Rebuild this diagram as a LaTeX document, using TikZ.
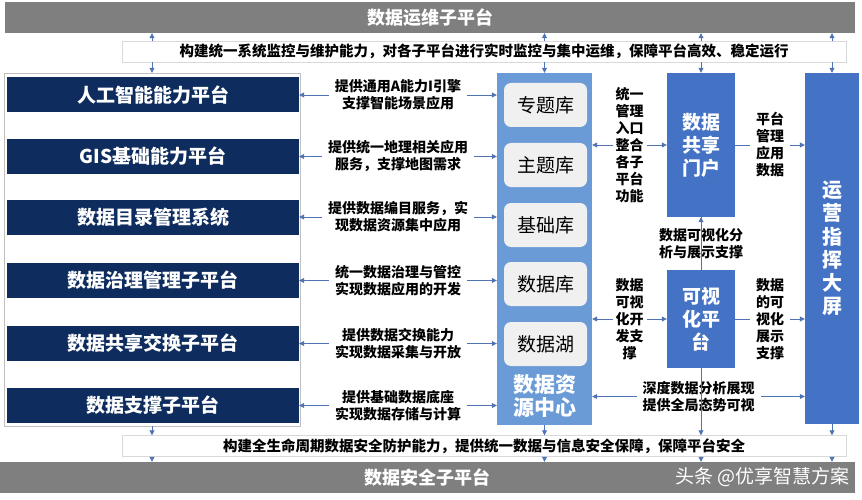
\documentclass[tikz,border=0pt]{standalone}
\usepackage{fontspec}
\setmainfont{Noto Sans CJK SC}
\usetikzlibrary{arrows.meta}
\definecolor{opsgray}{HTML}{7F7F7F}
\definecolor{navy}{HTML}{0E2D5E}
\definecolor{rcblue}{HTML}{6B9BD6}
\definecolor{deepblue}{HTML}{4472C4}
\definecolor{arrowblue}{HTML}{5073B3}

\begin{document}
\begin{tikzpicture}[x=1pt,y=-1pt,
	>={Triangle[width=5pt,length=5pt]},
	bar/.style={fill=opsgray,text=white,font=\fontsize{18}{20}\selectfont\bfseries,minimum width=850pt,minimum height=31pt,inner sep=0pt},
	band/.style={draw=black!15,fill=white,font=\fontsize{14.5}{17}\selectfont\bfseries,minimum width=724pt,minimum height=21pt,inner sep=0pt},
	plat/.style={fill=navy,text=white,font=\fontsize{19}{22}\selectfont\bfseries,minimum width=292pt,minimum height=35pt,inner sep=0pt},
	lib/.style={fill=black!6,rounded corners=7pt,font=\fontsize{19}{22}\selectfont,minimum width=83pt,minimum height=44pt,inner sep=0pt},
	col/.style={fill=deepblue,text=white,font=\fontsize{19}{23}\selectfont\bfseries,align=center,inner sep=0pt},
	lbl/.style={fill=white,font=\fontsize{14}{17}\selectfont\bfseries,align=center,inner xsep=6pt,inner ysep=1pt},
	link/.style={draw=arrowblue,line width=0.8pt}]

	\useasboundingbox (0,0) rectangle (862,500);

	% top and bottom sub-platforms
	\node[bar] (opsbar) at (430,17.5) {数据运维子平台};
	\node[band] (opsband) at (484,51.5) {构建统一系统监控与维护能力，对各子平台进行实时监控与集中运维，保障平台高效、稳定运行};
	\node[band] (secband) at (484,446) {构建全生命周期数据安全防护能力，提供统一数据与信息安全保障，保障平台安全};
	\node[bar,minimum width=855pt] (secbar) at (427.5,477.5) {数据安全子平台};
	\node[anchor=east,text=white,font=\fontsize{19}{21}\selectfont,inner sep=0pt] (mark) at (850,477) {头条 @优享智慧方案};

	% left column
	\node[draw=black!25,minimum width=296pt,minimum height=353pt,inner sep=0pt] (left) at (152,249.5) {};
	\node[plat] (p1) at (153,95)    {人工智能能力平台};
	\node[plat] (p2) at (153,156.5) {GIS基础能力平台};
	\node[plat] (p3) at (153,217)   {数据目录管理系统};
	\node[plat] (p4) at (153,280.5) {数据治理管理子平台};
	\node[plat] (p5) at (153,343.5) {数据共享交换子平台};
	\node[plat] (p6) at (153,405.5) {数据支撑子平台};

	% data resource centre
	\node[fill=rcblue,minimum width=95pt,minimum height=352pt,inner sep=0pt] (rc) at (544.5,249) {};
	\node[lib] (l1) at (545.5,105) {专题库};
	\node[lib] (l2) at (545.5,165) {主题库};
	\node[lib] (l3) at (545.5,225) {基础库};
	\node[lib] (l4) at (545.5,284) {数据库};
	\node[lib] (l5) at (545.5,344) {数据湖};
	\node[text=white,font=\fontsize{21}{23}\selectfont\bfseries,align=center,inner sep=0pt] (rclbl) at (544.5,396.5) {数据资\\源中心};

	% right columns
	\node[col,minimum width=68pt,minimum height=144pt] (portal) at (701,145) {数据\\共享\\门户};
	\node[col,minimum width=68pt,minimum height=98pt] (vis) at (701,319) {可视\\化平\\台};
	\node[col,minimum width=54pt,minimum height=351pt,font=\fontsize{20}{23.3}\selectfont\bfseries] (screen) at (832,248.5) {运\\营\\指\\挥\\大\\屏};

	% platforms <-> resource centre
	\draw[link,<->] (p1.east) -- (p1.east -| rc.west) node[lbl,midway] {提供通用A能力I引擎\\支撑智能场景应用};
	\draw[link,<->] (p2.east) -- (p2.east -| rc.west) node[lbl,midway] {提供统一地理相关应用\\服务，支撑地图需求};
	\draw[link,<->] (p3.east) -- (p3.east -| rc.west) node[lbl,midway] {提供数据编目服务，实\\现数据资源集中应用};
	\draw[link,<->] (p4.east) -- (p4.east -| rc.west) node[lbl,midway] {统一数据治理与管控\\实现数据应用的开发};
	\draw[link,<->] (p5.east) -- (p5.east -| rc.west) node[lbl,midway] {提供数据交换能力\\实现数据采集与开放};
	\draw[link,<->] (p6.east) -- (p6.east -| rc.west) node[lbl,midway] {提供基础数据底座\\实现数据存储与计算};

	% resource centre -> portal, vis, screen
	\draw[link,<->] (rc.east |- portal) -- (portal.west) node[lbl,midway,inner xsep=3pt] {统一\\管理\\入口\\整合\\各子\\平台\\功能};
	\draw[link,<->] (rc.east |- vis) -- (vis.west) node[lbl,midway,inner xsep=3pt] {数据\\可视\\化开\\发支\\撑};
	\draw[link,<->] (rclbl -| rc.east) -- (rclbl -| screen.west) node[lbl,midway] {深度数据分析展现\\提供全局态势可视};
	\draw[link,->] (portal.east) -- (portal.east -| screen.west) node[lbl,midway] {平台\\管理\\应用\\数据};
	\draw[link,->] (vis.east) -- (vis.east -| screen.west) node[lbl,midway] {数据\\的可\\视化\\展示\\支撑};
	\draw[link,->] (vis.north) -- (portal.south) node[lbl,midway] {数据可视化分\\析与展示支撑};

	% links to the ops and security bands
	\foreach \n in {left,rc,portal,screen} {
		\draw[link,->] (opsband.north -| \n) -- (opsbar.south -| \n);
		\draw[link,->] (opsband.south -| \n) -- (\n.north);
		\draw[link,->] (\n.south) -- (secband.north -| \n);
		\draw[link,->] (secband.south -| \n) -- (secbar.north -| \n);
	}

\end{tikzpicture}
\end{document}
